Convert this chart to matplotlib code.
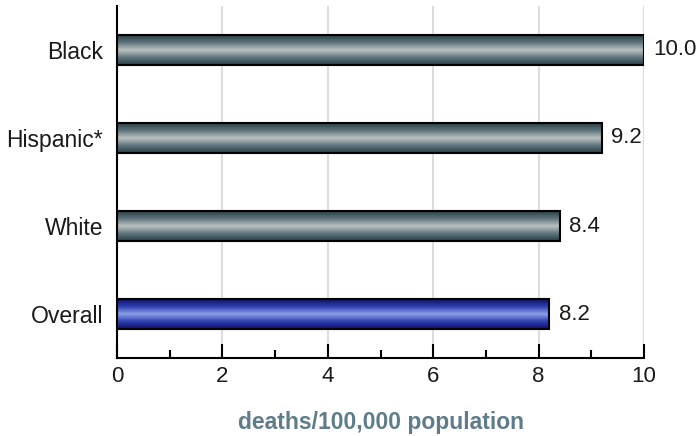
import numpy as np
import matplotlib
matplotlib.use("Agg")
import matplotlib.pyplot as plt
from matplotlib.colors import LinearSegmentedColormap
from matplotlib.ticker import MultipleLocator

categories = ["Black", "Hispanic*", "White", "Overall"]
values = [10.0, 9.2, 8.4, 8.2]
value_labels = ["10.0", "9.2", "8.4", "8.2"]
xticks = [0, 2, 4, 6, 8, 10]

plt.rcParams['font.family'] = ['Liberation Sans', 'DejaVu Sans']

fig = plt.figure(figsize=(7, 4.36), dpi=100)
ax = fig.add_axes([117/700, 1 - 358/436, (644-117)/700, (358-6)/436])

gray_cmap = LinearSegmentedColormap.from_list(
    "g", ["#283f48", "#5f767c", "#bcc0c0", "#5f767c", "#283f48"])
blue_cmap = LinearSegmentedColormap.from_list(
    "b", ["#0e0e70", "#2f40b0", "#8aa0e8", "#2f40b0", "#0e0e70"])

ypos = np.arange(len(categories))
bars = ax.barh(ypos, values, height=0.34, facecolor="none",
               edgecolor="black", linewidth=1.5, zorder=4)

grad = np.linspace(0, 1, 200).reshape(-1, 1)
for i, b in enumerate(bars):
    x0, y0 = b.get_x(), b.get_y()
    w, h = b.get_width(), b.get_height()
    cmap = blue_cmap if categories[i] == "Overall" else gray_cmap
    ax.imshow(grad, cmap=cmap, aspect="auto",
              extent=(x0, x0 + w, y0 + h, y0), zorder=3,
              interpolation="bilinear")
    ax.text(x0 + w + 0.18, y0 + h / 2, value_labels[i], va="center",
            ha="left", fontsize=16, color="#1a1a1a", zorder=5)

ax.set_xlim(0, 10)
ax.set_ylim(len(categories) - 0.5, -0.5)
ax.set_yticks(ypos)
ax.set_yticklabels(categories, fontsize=16.5, color="#1a1a1a")
ax.set_xticks(xticks)
ax.set_xticklabels([str(t) for t in xticks], fontsize=16, color="#1a1a1a")
ax.xaxis.set_minor_locator(MultipleLocator(1))
ax.tick_params(axis="x", which="major", direction="in", length=10, width=1.5, pad=6)
ax.tick_params(axis="x", which="minor", direction="in", length=6, width=1.5)
ax.tick_params(axis="y", length=0, pad=10)

ax.grid(axis="x", color="#dddddd", linewidth=1.5, zorder=0)
ax.set_axisbelow(True)
for s in ["top", "right"]:
    ax.spines[s].set_visible(False)
for s in ["left", "bottom"]:
    ax.spines[s].set_linewidth(1.5)
    ax.spines[s].set_color("black")

ax.set_xlabel("deaths/100,000 population", fontsize=16.5, fontweight="bold",
              color="#5f7c8a", labelpad=17)

fig.savefig("out.png", dpi=100)
